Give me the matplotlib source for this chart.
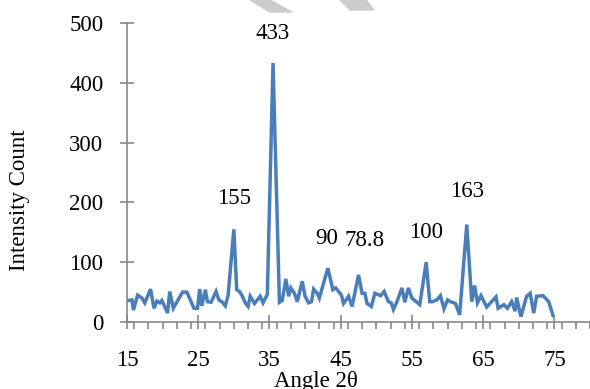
import matplotlib
matplotlib.use("Agg")
import matplotlib.pyplot as plt
from matplotlib.ticker import MultipleLocator
from matplotlib.patches import Polygon

angle = [15.2, 15.7, 15.9, 16.5, 17.1, 17.5, 18.3, 18.8, 19.2, 19.6, 19.9, 20.7, 21.0, 21.5,
         22.8, 23.4, 24.4, 24.9, 25.2, 25.5, 26.0, 26.3, 26.8, 27.5, 27.9, 28.3, 28.8, 29.2,
         30.0, 30.4, 30.8, 31.2, 31.6, 32.0, 32.3, 32.9, 33.7, 34.1, 34.7, 35.5, 36.4, 36.8,
         37.3, 37.7, 38.0, 38.5, 38.9, 39.6, 40.0, 40.5, 40.9, 41.2, 41.7, 42.0, 43.2, 43.9,
         44.3, 45.1, 45.4, 46.1, 46.6, 47.5, 48.0, 48.4, 48.7, 49.3, 49.8, 50.6, 51.1, 51.7,
         52.1, 52.4, 52.9, 53.6, 54.0, 54.5, 55.0, 55.6, 56.1, 57.0, 57.5, 57.9, 58.5, 59.0,
         59.5, 60.0, 60.4, 61.1, 61.7, 62.7, 63.4, 63.8, 64.2, 64.7, 65.5, 66.8, 67.1, 67.9,
         68.4, 69.0, 69.5, 69.7, 70.3, 71.1, 71.6, 72.1, 72.5, 73.4, 74.2, 74.8]
intensity = [36, 37, 20, 45, 40, 32, 55, 23, 35, 32, 36, 15, 51, 23,
             50, 50, 23, 23, 55, 27, 54, 34, 33, 51, 37, 34, 27, 45,
             155, 54, 51, 43, 32, 26, 43, 31, 43, 32, 46, 433, 33, 36,
             72, 43, 57, 48, 34, 68, 43, 32, 34, 55, 48, 40, 90, 54,
             57, 45, 31, 43, 26, 78.8, 48, 48, 31, 26, 48, 44, 51, 34,
             32, 21, 34, 57, 33, 57, 40, 34, 29, 100, 34, 34, 37, 44,
             22, 37, 34, 31, 12, 163, 34, 61, 32, 44, 25, 42, 23, 29,
             23, 34, 18, 41, 9, 43, 48, 15, 43, 44, 34, 11]

peak_labels = ["155", "433", "90", "78.8", "100", "163"]
peak_x = [30.0, 35.5, 43.0, 48.4, 57.0, 62.7]
peak_y = [207, 483, 140, 137, 150, 218]

FS = 16.5
plt.rcParams['font.family'] = ['Liberation Serif', 'DejaVu Serif']
fig = plt.figure(figsize=(5.9, 3.89), dpi=100)
ax = fig.add_axes([127/590, 1-322/389, 1-127/590, (322-23)/389])

ax.plot(angle, intensity, color='#4a7ebb', lw=2.5, solid_joinstyle='miter')
for t, x, y in zip(peak_labels, peak_x, peak_y):
    ax.text(x, y, t, ha='center', va='center', fontsize=FS)

ax.set_xlim(15, 80)
ax.set_ylim(0, 500)
ax.set_xticks([15, 25, 35, 45, 55, 65, 75])
ax.xaxis.set_minor_locator(MultipleLocator(2))
ax.set_yticks([0, 100, 200, 300, 400, 500])
ax.tick_params(axis='x', which='major', direction='inout', length=10, width=1.2,
               color='#888888', pad=15, labelsize=FS)
ax.tick_params(axis='x', which='minor', direction='out', length=5, width=1.2, color='#888888')
ax.tick_params(axis='y', which='major', direction='inout', length=10, width=1.2,
               color='#888888', pad=12, labelsize=FS)
for s in ['top', 'right']:
    ax.spines[s].set_visible(False)
for s in ['left', 'bottom']:
    ax.spines[s].set_color('#888888')
    ax.spines[s].set_linewidth(1.2)
ax.spines['left'].set_bounds(0, 500)

fig.text(20/590, 1-200/389, 'Intensity Count', rotation=90, ha='center', va='center', fontsize=FS)
fig.text(316/590, 1-382/389, 'Angle 2θ', ha='center', va='center', fontsize=FS)

# faint watermark fragments at the top
fig.patches.append(Polygon([[250/590, 1.0], [270/590, 1.0], [292/590, 1-12/389], [270/590, 1-12/389]],
                           closed=True, transform=fig.transFigure, color='#cccccc', zorder=0))
fig.patches.append(Polygon([[340/590, 1.0], [366/590, 1.0], [374/590, 1-10/389], [350/590, 1-10/389]],
                           closed=True, transform=fig.transFigure, color='#cccccc', zorder=0))

fig.savefig('out.png', dpi=100)
